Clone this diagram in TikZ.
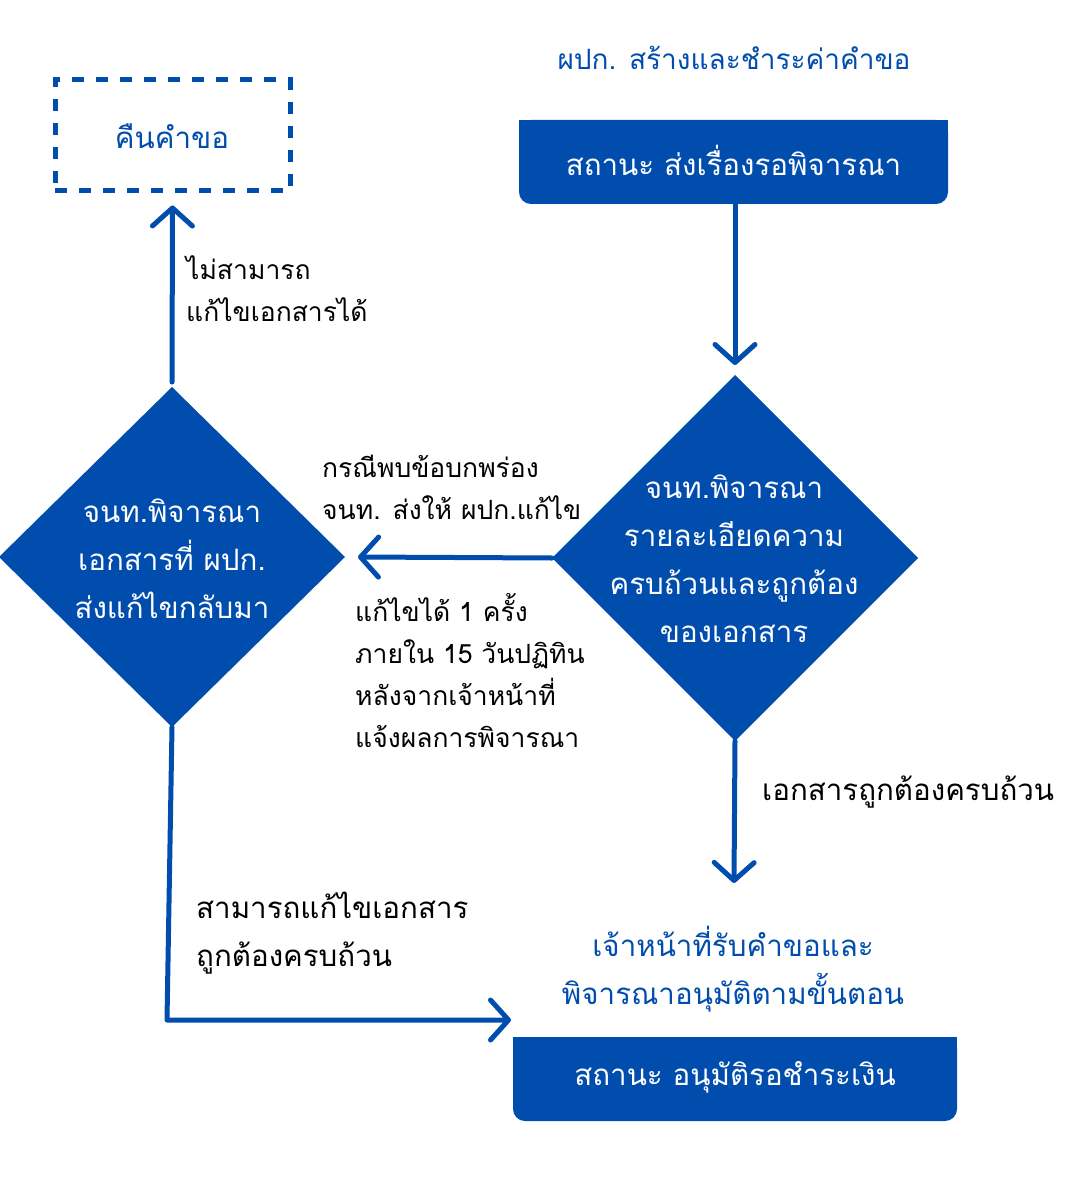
\documentclass[tikz,border=0pt]{standalone}
\usepackage{fontspec}
\newfontfamily\thai[Script=Thai]{Loma}
\usetikzlibrary{arrows.meta,shapes.geometric,calc}
\definecolor{tblue}{HTML}{004DAE}
\tikzset{
  arr/.style={draw=tblue, line width=5pt, line cap=round, line join=round,
    -{Straight Barb[length=18pt,width=40pt,line width=5pt,round]}},
  dia/.style={diamond, fill=tblue, inner sep=0pt, outer sep=0pt},
  bigtxt/.style={font=\thai\fontsize{29.5}{48}\selectfont, align=center, inner sep=0pt},
  bluetxt/.style={bigtxt, text=tblue},
  whitetxt/.style={bigtxt, text=white},
  blacktxt/.style={font=\thai\fontsize{29.5}{48}\selectfont, align=left, inner sep=0pt, anchor=west, text=black},
  smalltxt/.style={font=\thai\fontsize{26.5}{42}\selectfont, align=left, inner sep=0pt, anchor=west, text=black},
  boxnode/.style={rectangle, inner sep=0pt, minimum width=#1, minimum height=84pt},
}
\begin{document}
\begin{tikzpicture}[x=1pt,y=-1pt]
\useasboundingbox (0,0) rectangle (1067,1190);
% dashed box
\node[rectangle, draw=tblue, line width=5pt, dash pattern=on 12pt off 12pt,
  minimum width=235pt, minimum height=111pt, inner sep=0pt] (back) at (172.5,135.5) {};
\node[bluetxt] (backt) at (172,136) {คืนคำขอ};
% title
\node[bluetxt, font=\thai\fontsize{28}{48}\selectfont] (title) at (734,58) {ผปก. สร้างและชำระค่าคำขอ};
% top box
\fill[tblue, rounded corners=12pt] (519,120) rectangle (948,204);
\fill[tblue] (519,120) rectangle (948,160);
\node[boxnode=429pt] (topbox) at (733.5,162) {};
\node[whitetxt] (topt) at ([yshift=2pt]topbox.center) {สถานะ ส่งเรื่องรอพิจารณา};
% right diamond
\node[dia, minimum width=366pt, minimum height=366pt] (rd) at (735,558) {};
\node[whitetxt] (rdt) at (734,559) {จนท.พิจารณา\\รายละเอียดความ\\ครบถ้วนและถูกต้อง\\ของเอกสาร};
% left diamond
\node[dia, minimum width=346pt, minimum height=340pt] (ld) at (172,557) {};
\node[whitetxt] (ldt) at (172,559) {จนท.พิจารณา\\เอกสารที่ ผปก.\\ส่งแก้ไขกลับมา};
% blue text and bottom box
\node[bluetxt] (approve) at (733,969) {เจ้าหน้าที่รับคำขอและ\\พิจารณาอนุมัติตามขั้นตอน};
\fill[tblue, rounded corners=12pt] (513,1037) rectangle (957,1121);
\fill[tblue] (513,1037) rectangle (957,1077);
\node[boxnode=444pt] (botbox) at (735,1079) {};
\node[whitetxt] (bott) at ([yshift=2pt]botbox.center) {สถานะ อนุมัติรอชำระเงิน};
% labels
\node[smalltxt] (l1) at (186,289) {ไม่สามารถ\\แก้ไขเอกสารได้};
\node[smalltxt] (l2) at (322,487) {กรณีพบข้อบกพร่อง\\จนท. ส่งให้ ผปก.แก้ไข};
\node[smalltxt] (l3) at (355,671) {แก้ไขได้ 1 ครั้ง\\ภายใน 15 วันปฏิทิน\\หลังจากเจ้าหน้าที่\\แจ้งผลการพิจารณา};
\node[blacktxt] (l4) at (762,792) {เอกสารถูกต้องครบถ้วน};
\node[blacktxt] (l5) at (196,933) {สามารถแก้ไขเอกสาร\\ถูกต้องครบถ้วน};
% connectors
\coordinate (c1) at (734,883);
\coordinate (c2) at (167,1020);
\coordinate (c3) at (511,1020);
\draw[arr] (topbox.south -| rd.north) -- ([yshift=10pt]rd.north);
\draw[arr] (rd.west) -- ([xshift=13pt]ld.east);
\draw[arr] ([yshift=5pt]ld.north) -- ([yshift=-12pt]back.south);
\draw[arr] (rd.south) -- (c1);
\draw[arr] (ld.south) -- (c2) -- (c3);
\end{tikzpicture}
\end{document}
